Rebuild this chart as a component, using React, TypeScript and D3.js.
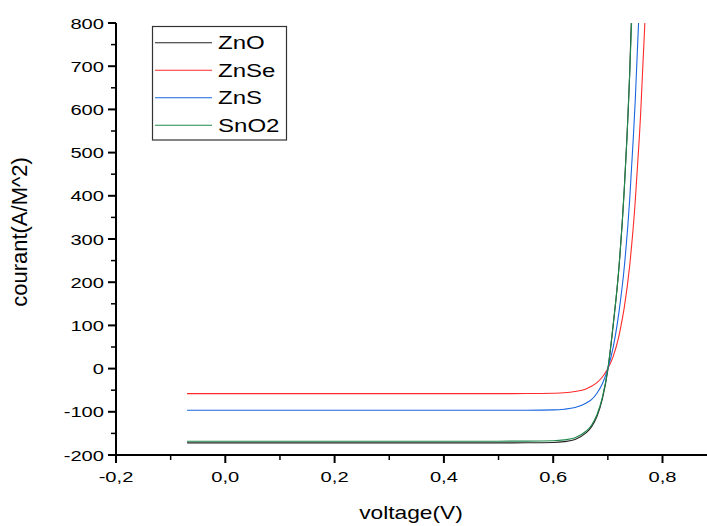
import React from "react";
import * as d3 from "d3";

const W = 707;
const H = 526;

// X ticks
const xMajorTicks = [-0.2, 0.0, 0.2, 0.4, 0.6, 0.8];
const xMinorTicks = [-0.1, 0.1, 0.3, 0.5, 0.7];
const xTickLabels = ["-0,2", "0,0", "0,2", "0,4", "0,6", "0,8"];
// Y ticks
const yMajorTicks = [-200, -100, 0, 100, 200, 300, 400, 500, 600, 700, 800];
const yMinorTicks = [-150, -50, 50, 150, 250, 350, 450, 550, 650, 750];

// Series (voltage V, current A/M^2)
const znoV = [-0.07, 0, 0.1, 0.2, 0.3, 0.4, 0.5, 0.55, 0.6, 0.62, 0.64, 0.66, 0.67, 0.68, 0.69, 0.7, 0.71, 0.72, 0.73, 0.735, 0.74, 0.7428];
const znoI = [-172, -172, -172, -172, -172, -172, -172, -171.8, -171, -169, -164, -149, -135, -111, -70, -3, 103, 229, 414, 536, 686, 800];

const znseV = [-0.07, 0, 0.1, 0.2, 0.3, 0.4, 0.5, 0.55, 0.6, 0.62, 0.64, 0.66, 0.67, 0.68, 0.69, 0.7, 0.71, 0.72, 0.7228, 0.73, 0.74, 0.75, 0.7576, 0.76, 0.7677];
const znseI = [-58, -58, -58, -58, -58, -58, -58, -57.8, -57, -56, -53, -47, -41, -32.5, -19.5, 0, 29, 74, 91, 141, 239, 385, 535, 590, 800];

const znsV = [-0.07, 0, 0.1, 0.2, 0.3, 0.4, 0.5, 0.55, 0.6, 0.62, 0.64, 0.66, 0.67, 0.68, 0.69, 0.7, 0.71, 0.72, 0.73, 0.74, 0.7466, 0.75, 0.7562];
const znsI = [-96.5, -96.5, -96.5, -96.5, -96.5, -96.5, -96.5, -96.3, -95.5, -94, -90, -80, -72, -57, -35, 0, 51, 128, 234, 392, 535, 617, 800];

const sno2V = [-0.07, 0, 0.1, 0.2, 0.3, 0.4, 0.5, 0.55, 0.6, 0.62, 0.64, 0.66, 0.67, 0.68, 0.69, 0.7, 0.71, 0.72, 0.73, 0.735, 0.74, 0.7434];
const sno2I = [-168, -168, -168, -168, -168, -168, -168, -167.8, -167, -165, -160, -145, -131, -107, -66, 0, 105, 230, 414, 535, 683, 800];

const seriesNames = ["ZnO", "ZnSe", "ZnS", "SnO2"];
const seriesColors = ["#222222", "#ff2a2a", "#1a66e0", "#1f8a4c"];
const seriesV = [znoV, znseV, znsV, sno2V];
const seriesI = [znoI, znseI, znsI, sno2I];

const FONT = "'Liberation Sans', Arial, sans-serif";
const SX = 1.3; // horizontal stretch of the original picture's text

function SText(props: {
  x: number;
  y: number;
  size: number;
  anchor?: string;
  dy?: string;
  children: React.ReactNode;
}) {
  const { x, y, size, anchor = "start", dy, children } = props;
  return (
    <g transform={`translate(${x},${y}) scale(${SX},1)`}>
      <text x={0} y={0} dy={dy} textAnchor={anchor} fontSize={size} fill="#000">
        {children}
      </text>
    </g>
  );
}

export default function App() {
  const x = d3.scaleLinear().domain([-0.2, 0.9]).range([116, 116 + 1.1 * 546.5]);
  const y = d3.scaleLinear().domain([-200, 800]).range([455, 23]);

  const line = d3
    .line<[number, number]>()
    .x((d) => x(d[0]))
    .y((d) => y(d[1]))
    .curve(d3.curveMonotoneX);

  const x0 = x(-0.2);
  const y0 = y(-200);

  return (
    <svg
      width={W}
      height={H}
      style={{ position: "absolute", left: 0, top: 0, background: "#fff" }}
      fontFamily={FONT}
    >
      <defs>
        <clipPath id="plot">
          <rect x={x0} y={y(800) - 1} width={W - x0} height={y0 - y(800) + 1} />
        </clipPath>
      </defs>
      <rect width={W} height={H} fill="#fff" />

      {/* curves */}
      <g clipPath="url(#plot)">
        {seriesNames.map((name, i) => {
          const pts = seriesV[i].map((v, j) => [v, seriesI[i][j]] as [number, number]);
          return (
            <path key={name} d={line(pts) || ""} fill="none" stroke={seriesColors[i]} strokeWidth={1.1} />
          );
        })}
      </g>

      {/* Y axis */}
      <line x1={x0} x2={x0} y1={y(800)} y2={y0} stroke="#000" strokeWidth={2} />
      {yMajorTicks.map((t) => (
        <g key={"ym" + t}>
          <line x1={x0 - 8} x2={x0} y1={y(t)} y2={y(t)} stroke="#000" strokeWidth={2} />
          <SText x={x0 - 12} y={y(t)} dy="0.36em" anchor="end" size={15.5}>
            {t}
          </SText>
        </g>
      ))}
      {yMinorTicks.map((t) => (
        <line key={"yn" + t} x1={x0 - 5} x2={x0} y1={y(t)} y2={y(t)} stroke="#000" strokeWidth={1.5} />
      ))}

      {/* X axis */}
      <line x1={x0 - 1} x2={W} y1={y0} y2={y0} stroke="#000" strokeWidth={2} />
      {xMajorTicks.map((t, i) => (
        <g key={"xm" + t}>
          <line x1={x(t)} x2={x(t)} y1={y0} y2={y0 + 8} stroke="#000" strokeWidth={2} />
          <SText x={x(t)} y={y0 + 27} anchor="middle" size={15.5}>
            {xTickLabels[i]}
          </SText>
        </g>
      ))}
      {xMinorTicks.map((t) => (
        <line key={"xn" + t} x1={x(t)} x2={x(t)} y1={y0} y2={y0 + 5} stroke="#000" strokeWidth={1.5} />
      ))}

      {/* axis titles */}
      <SText x={411} y={519} anchor="middle" size={17.5}>
        voltage(V)
      </SText>
      <g transform={`translate(27, 232) rotate(-90)`}>
        <text x={0} y={0} textAnchor="middle" fontSize={22} fill="#000">
          courant(A/M^2)
        </text>
      </g>

      {/* legend */}
      <rect x={152.5} y={26.5} width={134} height={113.5} fill="#fff" stroke="#333" strokeWidth={1.2} />
      {seriesNames.map((name, i) => {
        const ly = 42.7 + i * 27.5;
        return (
          <g key={"lg" + name}>
            <line x1={155} x2={212} y1={ly} y2={ly} stroke={seriesColors[i]} strokeWidth={1.1} />
            <SText x={218} y={ly} dy="0.36em" size={18.5}>
              {name}
            </SText>
          </g>
        );
      })}
    </svg>
  );
}
